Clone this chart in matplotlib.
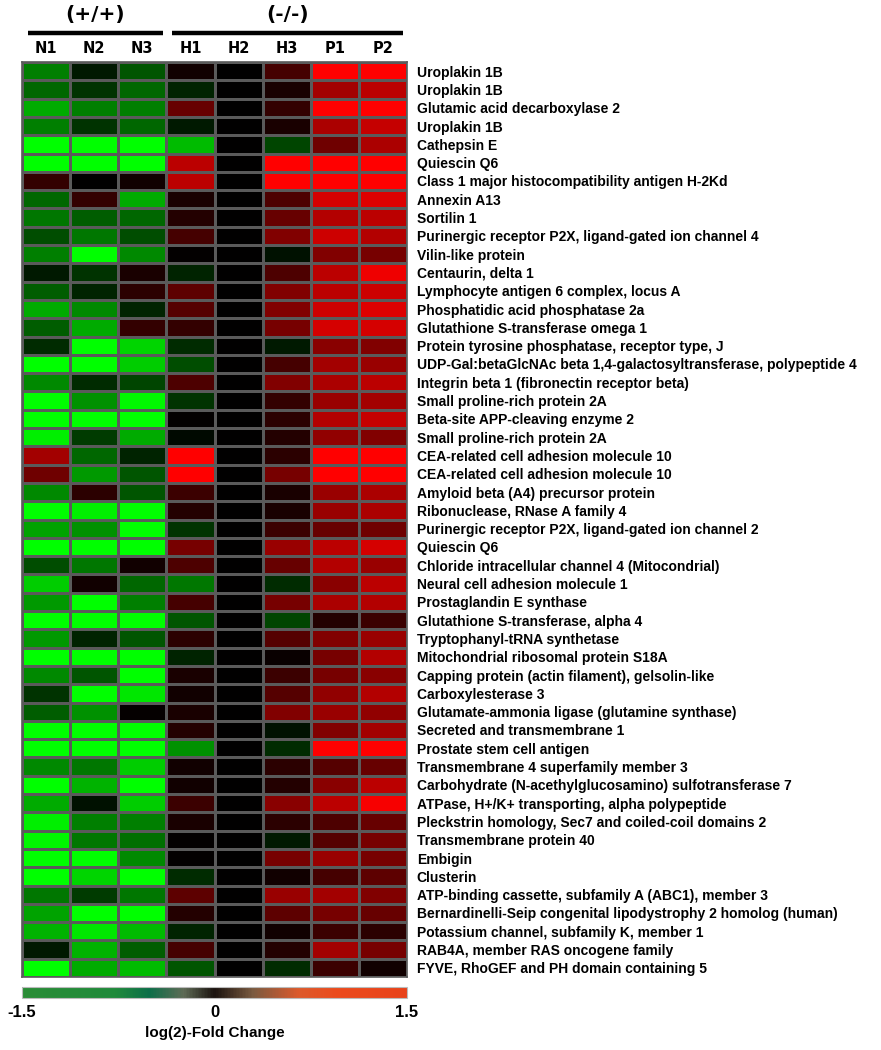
import numpy as np
import matplotlib
matplotlib.use("Agg")
import matplotlib.pyplot as plt
from matplotlib.colors import LinearSegmentedColormap, Normalize
from matplotlib.cm import ScalarMappable

# ---------------- data ----------------
samples = ["N1", "N2", "N3", "H1", "H2", "H3", "P1", "P2"]
groups = ["(+/+)", "(-/-)"]
group_members = [["N1", "N2", "N3"], ["H1", "H2", "H3", "P1", "P2"]]

genes = [
    "Uroplakin 1B",
    "Uroplakin 1B",
    "Glutamic acid decarboxylase 2",
    "Uroplakin 1B",
    "Cathepsin E",
    "Quiescin Q6",
    "Class 1 major histocompatibility antigen H-2Kd",
    "Annexin A13",
    "Sortilin 1",
    "Purinergic receptor P2X, ligand-gated ion channel 4",
    "Vilin-like protein",
    "Centaurin, delta 1",
    "Lymphocyte antigen 6 complex, locus A",
    "Phosphatidic acid phosphatase 2a",
    "Glutathione S-transferase omega 1",
    "Protein tyrosine phosphatase, receptor type, J",
    "UDP-Gal:betaGlcNAc beta 1,4-galactosyltransferase, polypeptide 4",
    "Integrin beta 1 (fibronectin receptor beta)",
    "Small proline-rich protein 2A",
    "Beta-site APP-cleaving enzyme 2",
    "Small proline-rich protein 2A",
    "CEA-related cell adhesion molecule 10",
    "CEA-related cell adhesion molecule 10",
    "Amyloid beta (A4) precursor protein",
    "Ribonuclease, RNase A family 4",
    "Purinergic receptor P2X, ligand-gated ion channel 2",
    "Quiescin Q6",
    "Chloride intracellular channel 4 (Mitocondrial)",
    "Neural cell adhesion molecule 1",
    "Prostaglandin E synthase",
    "Glutathione S-transferase, alpha 4",
    "Tryptophanyl-tRNA synthetase",
    "Mitochondrial ribosomal protein S18A",
    "Capping protein (actin filament), gelsolin-like",
    "Carboxylesterase 3",
    "Glutamate-ammonia ligase (glutamine synthase)",
    "Secreted and transmembrane 1",
    "Prostate stem cell antigen",
    "Transmembrane 4 superfamily member 3",
    "Carbohydrate (N-acethylglucosamino) sulfotransferase 7",
    "ATPase, H+/K+ transporting, alpha polypeptide",
    "Pleckstrin homology, Sec7 and coiled-coil domains 2",
    "Transmembrane protein 40",
    "Embigin",
    "Clusterin",
    "ATP-binding cassette, subfamily A (ABC1), member 3",
    "Bernardinelli-Seip congenital lipodystrophy 2 homolog (human)",
    "Potassium channel, subfamily K, member 1",
    "RAB4A, member RAS oncogene family",
    "FYVE, RhoGEF and PH domain containing 5",
]

# log2 fold change per sample column (rows follow `genes`)
N1 = [-0.75, -0.6, -1.0, -0.75, -1.5, -1.5, 0.3, -0.6, -0.7, -0.45,
      -0.75, -0.15, -0.55, -1.0, -0.55, -0.25, -1.5, -0.8, -1.5, -1.5,
      -1.4, 0.95, 0.65, -0.8, -1.5, -0.95, -1.5, -0.45, -1.2, -0.9,
      -1.5, -0.9, -1.5, -0.8, -0.3, -0.55, -1.5, -1.5, -0.8, -1.5,
      -1.0, -1.4, -1.45, -1.5, -1.5, -0.7, -0.95, -1.05, -0.15, -1.5]
N2 = [-0.15, -0.3, -0.75, -0.3, -1.5, -1.5, 0.0, 0.3, -0.55, -0.7,
      -1.5, -0.3, -0.2, -0.8, -1.0, -1.5, -1.5, -0.25, -0.85, -1.5,
      -0.35, -0.6, -0.9, 0.25, -1.4, -0.85, -1.5, -0.7, 0.1, -1.5,
      -1.5, -0.2, -1.5, -0.5, -1.5, -0.85, -1.5, -1.5, -0.7, -1.05,
      -0.1, -0.75, -0.7, -1.5, -1.25, -0.35, -1.5, -1.35, -1.05, -1.0]
N3 = [-0.5, -0.6, -0.75, -0.6, -1.5, -1.5, 0.1, -1.0, -0.6, -0.45,
      -0.8, 0.15, 0.25, -0.2, 0.3, -1.25, -1.2, -0.4, -1.45, -1.5,
      -1.0, -0.2, -0.5, -0.5, -1.5, -1.5, -1.5, 0.1, -0.6, -0.75,
      -1.5, -0.5, -1.5, -1.5, -1.35, 0.03, -1.5, -1.5, -1.2, -1.5,
      -1.2, -0.75, -0.65, -0.8, -1.5, -0.7, -1.5, -1.1, -0.55, -1.1]
H1 = [0.1, -0.2, 0.6, -0.15, -1.1, 1.1, 1.1, 0.15, 0.2, 0.4,
      0.02, -0.2, 0.55, 0.5, 0.3, -0.25, -0.45, 0.45, -0.3, 0.02,
      -0.05, 1.5, 1.5, 0.35, 0.2, -0.3, 0.7, 0.45, -0.7, 0.4,
      -0.5, 0.25, -0.2, 0.15, 0.1, 0.15, 0.2, -0.85, 0.1, 0.1,
      0.35, 0.15, 0.02, 0.02, -0.25, 0.55, 0.2, -0.2, 0.4, -0.5]
H2 = [0.0] * 50
H3 = [0.4, 0.15, 0.3, 0.15, -0.4, 1.5, 1.5, 0.45, 0.6, 0.75,
      -0.1, 0.45, 0.75, 0.75, 0.7, -0.15, 0.4, 0.75, 0.3, 0.25,
      0.2, 0.25, 0.7, 0.15, 0.15, 0.35, 0.9, 0.6, -0.25, 0.7,
      -0.4, 0.5, 0.05, 0.35, 0.5, 0.75, -0.1, -0.25, 0.25, 0.2,
      0.8, 0.25, -0.15, 0.7, 0.1, 0.9, 0.55, 0.1, 0.2, -0.25]
P1 = [1.5, 0.95, 1.5, 1.0, 0.65, 1.5, 1.5, 1.25, 1.05, 1.2,
      0.75, 1.1, 1.1, 1.2, 1.25, 0.8, 0.95, 1.0, 0.9, 1.05,
      0.85, 1.5, 1.5, 0.9, 0.9, 0.6, 1.1, 1.05, 0.8, 1.0,
      0.2, 0.75, 0.7, 0.7, 0.85, 0.9, 0.75, 1.5, 0.5, 0.8,
      1.1, 0.45, 0.5, 0.9, 0.4, 0.95, 0.7, 0.35, 0.95, 0.35]
P2 = [1.5, 1.1, 1.5, 1.15, 1.0, 1.5, 1.5, 1.3, 1.1, 1.05,
      0.7, 1.4, 1.2, 1.3, 1.25, 0.75, 0.9, 1.1, 0.95, 1.15,
      0.75, 1.5, 1.5, 1.0, 1.0, 0.65, 1.25, 0.9, 1.1, 1.05,
      0.35, 0.9, 1.05, 0.8, 1.05, 0.85, 0.95, 1.5, 0.6, 1.1,
      1.45, 0.6, 0.7, 0.7, 0.55, 0.75, 0.6, 0.25, 0.7, 0.1]

vmin, vmax = -1.5, 1.5
cbar_ticks = [-1.5, 0, 1.5]
cbar_label = "log(2)-Fold Change"

# ---------------- figure ----------------
W, H = 881, 1050
fig = plt.figure(figsize=(W / 100, H / 100), dpi=100)
fig.patch.set_facecolor("white")

def px_axes(x0, y0, x1, y1):
    return fig.add_axes([x0 / W, 1 - y1 / H, (x1 - x0) / W, (y1 - y0) / H])

ax = px_axes(22, 62, 407, 977)

data = np.array([N1, N2, N3, H1, H2, H3, P1, P2]).T  # rows x cols
cell_cmap = LinearSegmentedColormap.from_list(
    "gbr", [(0.0, "#00ff00"), (0.5, "#000000"), (1.0, "#ff0000")])

nrows, ncols = data.shape
ax.pcolormesh(np.arange(ncols + 1), np.arange(nrows + 1), data,
              cmap=cell_cmap, vmin=vmin, vmax=vmax,
              edgecolors="#5a5a5a", linewidth=1.0)
ax.set_xlim(0, ncols)
ax.set_ylim(nrows, 0)
for s in ax.spines.values():
    s.set_edgecolor("#5a5a5a")
    s.set_linewidth(1.2)

# row labels on the right
ax.yaxis.tick_right()
ax.set_yticks(np.arange(nrows) + 0.5)
ax.set_yticklabels(genes, fontfamily="Liberation Sans", fontweight="bold",
                   fontsize=10.0)
ax.tick_params(axis="y", length=0, pad=7)

# column labels on top
ax.xaxis.tick_top()
ax.set_xticks(np.arange(ncols) + 0.5)
ax.set_xticklabels(samples, fontfamily="DejaVu Sans", fontweight="bold",
                   fontsize=10.5)
ax.tick_params(axis="x", length=0, pad=4)

# group bars and labels
trans = ax.get_xaxis_transform()
for gname, members in zip(groups, group_members):
    i0 = samples.index(members[0])
    i1 = samples.index(members[-1])
    x0, x1 = i0 + 0.12, i1 + 1 - 0.08
    ax.plot([x0, x1], [1 + 29 / 915] * 2, color="black", lw=3.2,
            transform=trans, clip_on=False, solid_capstyle="butt")
    ax.text((x0 + x1) / 2, 1 + 47 / 915, gname, transform=trans,
            ha="center", va="center", fontsize=14.5, fontweight="bold",
            fontfamily="DejaVu Sans")

# colour bar
bar_cmap = LinearSegmentedColormap.from_list("bar", [
    (0.00, "#2a8c36"), (0.24, "#1f8a3a"), (0.33, "#0b6e48"),
    (0.42, "#5e6a55"), (0.50, "#1a120e"), (0.60, "#7a5a40"),
    (0.72, "#dc5a2c"), (0.82, "#eb4a1c"), (1.00, "#e8421a")])
cax = px_axes(22, 987, 407, 998)
cb = fig.colorbar(ScalarMappable(norm=Normalize(vmin, vmax), cmap=bar_cmap),
                  cax=cax, orientation="horizontal", ticks=cbar_ticks)
cb.outline.set_edgecolor("#bbbbbb")
cb.outline.set_linewidth(0.8)
cax.tick_params(length=0, pad=5)
cax.set_xticklabels(["-1.5", "0", "1.5"], fontfamily="Liberation Sans",
                    fontweight="bold", fontsize=12)
fig.text(215 / W, 1 - 1033 / H, cbar_label, ha="center", va="center",
         fontfamily="Liberation Sans", fontweight="bold", fontsize=11)

fig.savefig("out.png", dpi=100, facecolor="white")
